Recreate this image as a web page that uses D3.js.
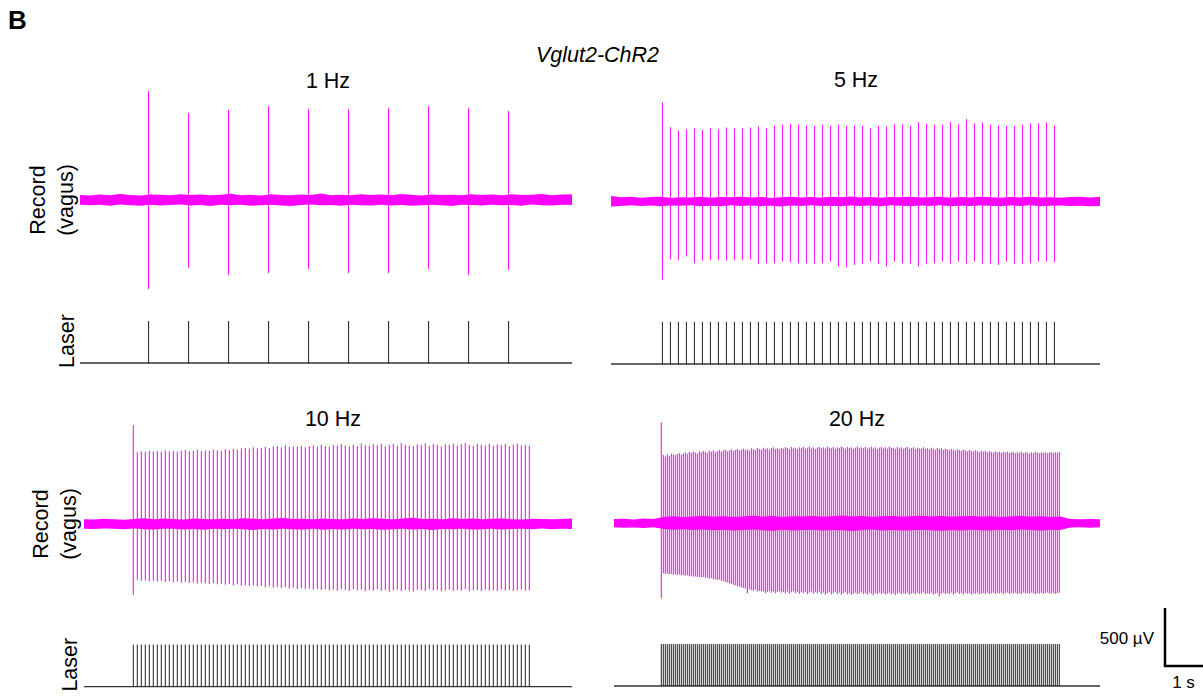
<!DOCTYPE html>
<html>
<head>
<meta charset="utf-8">
<script src="https://cdn.jsdelivr.net/npm/d3@7"></script>
<style>
  body { margin: 0; background: #fff; }
  text { font-family: "Liberation Sans", Arial, Helvetica, sans-serif; fill: #000; }
</style>
</head>
<body>
<script>
// stimulation protocol per panel
var titles = ["1 Hz", "5 Hz", "10 Hz", "20 Hz"],
    freqs = [1, 5, 10, 20],
    onsets = [1.715, 1.285, 1.2325, 1.1825],   // s, first laser pulse
    durations = [12.3, 12.225, 12.2, 12.15];   // s, trace length

// spike amplitudes (uV, positive peak / negative peak)
var rec1Up = [940, 750, 776, 810, 784, 784, 793, 810, 793, 767],
    rec1Down = [767, 586, 647, 629, 595, 629, 629, 595, 647, 603];

var rec5Up = [856, 640, 612, 623, 632, 618, 632, 623, 638, 632,
              632, 638, 647, 632, 655, 661, 670, 661, 655, 652,
              661, 652, 661, 652, 655, 652, 632, 652, 647, 666,
              666, 652, 684, 670, 661, 661, 690, 666, 710, 675,
              681, 661, 655, 652, 652, 661, 675, 675, 681, 655],
    rec5Down = [675, 497, 503, 474, 532, 511, 503, 503, 511, 503,
                503, 497, 540, 532, 532, 517, 526, 532, 532, 537,
                532, 517, 560, 566, 546, 537, 517, 537, 560, 517,
                532, 537, 560, 537, 532, 517, 537, 517, 537, 517,
                537, 537, 546, 517, 537, 537, 532, 517, 517, 526];

var rec10Up = [853, 618, 626, 621, 632, 624, 629, 621, 635, 626,
               629, 623, 632, 638, 627, 632, 641, 629, 635, 632,
               641, 635, 629, 644, 638, 647, 641, 652, 655, 649,
               661, 652, 658, 664, 655, 667, 672, 661, 678, 664,
               670, 667, 675, 661, 672, 678, 667, 684, 672, 667,
               681, 675, 690, 678, 670, 684, 672, 695, 681, 675,
               687, 678, 692, 670, 684, 690, 675, 698, 684, 678,
               672, 687, 681, 695, 675, 690, 684, 670, 687, 681,
               692, 675, 687, 698, 681, 672, 690, 684, 678, 692,
               675, 687, 681, 690, 672, 684, 692, 678, 681, 672],
    rec10Down = [612, 483, 489, 486, 494, 491, 497, 489, 500, 494,
                 503, 497, 506, 500, 509, 503, 514, 506, 511, 517,
                 509, 520, 514, 523, 517, 529, 520, 532, 526, 537,
                 529, 540, 534, 546, 537, 549, 543, 552, 546, 557,
                 549, 560, 554, 563, 557, 566, 560, 569, 563, 572,
                 566, 575, 560, 569, 578, 563, 572, 566, 580, 569,
                 575, 563, 578, 569, 583, 572, 566, 578, 569, 575,
                 583, 566, 572, 578, 563, 575, 569, 580, 572, 566,
                 578, 569, 575, 563, 580, 572, 569, 578, 566, 575,
                 572, 580, 566, 575, 569, 578, 572, 566, 575, 569];

var rec20Up = [871,
               589, 575, 595, 583, 601, 592, 586, 598, 604, 592,
               601, 612, 598, 615, 606, 618, 609, 601, 621, 612,
               624, 615, 606, 627, 618, 629, 612, 621, 632, 618,
               627, 635, 621, 629, 638, 624, 632, 641, 629, 635,
               644, 632, 638, 627, 647, 638, 632, 649, 641, 635,
               652, 641, 647, 635, 649, 655, 641, 647, 638, 652,
               644, 655, 649, 638, 658, 647, 652, 641, 655, 649,
               658, 644, 652, 661, 647, 655, 641, 652, 658, 647,
               655, 644, 661, 652, 647, 658, 641, 655, 649, 661,
               652, 644, 658, 649, 655, 641, 652, 661, 647, 655,
               649, 658, 644, 652, 661, 647, 655, 641, 652, 658,
               647, 655, 644, 661, 649, 652, 641, 658, 647, 655,
               644, 652, 658, 641, 649, 655, 638, 652, 647, 644,
               655, 641, 649, 638, 652, 644, 635, 649, 641, 647,
               632, 644, 638, 629, 641, 635, 627, 638, 632, 624,
               635, 629, 621, 632, 624, 618, 629, 621, 612, 627,
               618, 624, 612, 621, 615, 609, 621, 612, 618, 606,
               615, 609, 618, 606, 612, 615, 604, 612, 609, 618,
               606, 612, 609, 601, 612, 606, 615, 609, 604, 612,
               606, 612, 604, 609, 615, 606, 612, 609, 615],
    rec20Down = [646,
                 431, 437, 434, 440, 437, 443, 440, 446, 443, 449,
                 446, 452, 449, 457, 452, 460, 457, 463, 460, 466,
                 463, 471, 468, 477, 474, 483, 480, 489, 486, 494,
                 500, 506, 511, 517, 523, 529, 534, 540, 546, 552,
                 557, 563, 603, 569, 575, 580, 572, 589, 583, 586,
                 586, 601, 592, 583, 598, 589, 603, 592, 586, 598,
                 592, 601, 589, 606, 595, 586, 601, 592, 609, 595,
                 603, 592, 612, 598, 589, 606, 595, 603, 589, 609,
                 598, 615, 603, 595, 612, 601, 592, 609, 598, 615,
                 603, 595, 612, 601, 618, 606, 598, 612, 603, 595,
                 609, 601, 615, 598, 606, 621, 603, 612, 598, 609,
                 601, 615, 606, 598, 612, 603, 618, 606, 598, 612,
                 603, 609, 598, 615, 606, 601, 612, 598, 609, 603,
                 595, 612, 603, 609, 598, 615, 606, 601, 629, 606,
                 598, 612, 603, 609, 598, 615, 603, 595, 609, 601,
                 612, 598, 606, 601, 615, 603, 609, 598, 612, 606,
                 601, 609, 598, 612, 603, 598, 609, 601, 606, 598,
                 612, 603, 598, 609, 601, 606, 598, 612, 603, 609,
                 598, 606, 601, 609, 598, 603, 612, 601, 606, 598,
                 609, 601, 598, 606, 603, 598, 609, 601, 598];

// baseline noise band, half widths in uV, sampled evenly along each trace
var noise1Up = [44, 38, 47, 41, 52, 43, 39, 48, 45, 41, 50, 43, 47, 40, 46, 53, 42, 45, 39, 49,
                44, 41, 48, 43, 55, 42, 46, 40, 50, 44, 47, 41, 52, 45, 39, 48, 43, 46, 41, 50,
                44, 47, 40, 49, 43, 46, 52, 42, 47, 50],
    noise1Down = [40, 46, 42, 49, 38, 45, 50, 41, 47, 43, 39, 48, 44, 52, 41, 46, 40, 49, 45, 42,
                  47, 51, 43, 39, 46, 44, 50, 42, 45, 48, 41, 47, 43, 49, 45, 40, 46, 52, 42, 44,
                  48, 41, 46, 43, 50, 39, 45, 47, 42, 44];
var noise5Up = [48, 36, 40, 33, 38, 42, 31, 37, 35, 40, 33, 38, 36, 42, 34, 39, 31, 37, 41, 35,
                38, 33, 40, 36, 43, 34, 38, 32, 39, 36, 41, 34, 37, 40, 33, 38, 35, 42, 36, 33,
                39, 35, 41, 34, 37, 32, 38, 40, 35, 42],
    noise5Down = [44, 38, 33, 39, 35, 41, 34, 37, 32, 40, 36, 42, 33, 38, 35, 40, 37, 43, 34, 38,
                  32, 39, 36, 41, 34, 38, 35, 42, 33, 37, 40, 35, 38, 32, 41, 36, 39, 34, 37, 42,
                  35, 38, 33, 40, 36, 34, 39, 37, 41, 38];
var noise10Up = [42, 38, 45, 40, 36, 44, 50, 41, 47, 43, 39, 48, 44, 41, 46, 42, 49, 45, 40, 47,
                 52, 43, 46, 41, 48, 44, 40, 47, 43, 50, 45, 41, 48, 53, 44, 46, 40, 49, 43, 47,
                 42, 45, 48, 41, 38, 46, 43, 40, 44, 48],
    noise10Down = [40, 44, 38, 42, 46, 39, 45, 48, 42, 40, 47, 43, 49, 41, 45, 40, 46, 51, 43, 47,
                   41, 45, 48, 42, 50, 44, 47, 41, 46, 43, 49, 45, 42, 47, 44, 51, 43, 46, 40, 48,
                   45, 42, 47, 43, 40, 45, 38, 46, 42, 44];
var noise20Up = [36, 40, 33, 42, 38, 55, 60, 52, 58, 63, 56, 61, 54, 59, 65, 57, 62, 55, 60, 58,
                 64, 56, 61, 67, 58, 62, 55, 60, 63, 57, 61, 66, 58, 62, 56, 60, 64, 57, 61, 55,
                 59, 63, 56, 60, 54, 58, 38, 34, 37, 35],
    noise20Down = [34, 38, 36, 40, 35, 50, 56, 52, 58, 54, 60, 55, 62, 57, 53, 59, 64, 56, 61, 58,
                   55, 62, 57, 60, 66, 58, 54, 61, 57, 63, 59, 55, 60, 64, 57, 61, 55, 59, 62, 56,
                   60, 54, 58, 61, 55, 57, 36, 33, 38, 35];

var spikesUp = [rec1Up, rec5Up, rec10Up, rec20Up],
    spikesDown = [rec1Down, rec5Down, rec10Down, rec20Down],
    noiseUp = [noise1Up, noise5Up, noise10Up, noise20Up],
    noiseDown = [noise1Down, noise5Down, noise10Down, noise20Down];

// layout
var width = 1203,
    height = 698,
    pxPerSec = 40,
    pxPer500uV = 58,
    laserHeight = 42,
    magenta = "#ff00ff",
    lefts = [80, 611, 84, 614],
    recYs = [200, 201.5, 524, 523.3],
    laserYs = [363, 364, 686.7, 686],
    titleX = [328, 856, 333, 857],
    titleY = [87.5, 87, 426, 426];

var svg = d3.select("body")
    .append("svg")
        .attr("width", width)
        .attr("height", height);

svg.append("text")
    .attr("x", 8)
    .attr("y", 29)
    .style("font-size", "26px")
    .style("font-weight", "bold")
    .text("B");

svg.append("text")
    .attr("x", 597.5)
    .attr("y", 62)
    .attr("text-anchor", "middle")
    .style("font-size", "21.5px")
    .style("font-style", "italic")
    .text("Vglut2-ChR2");

titles.forEach(function(title, p) {
    var x = d3.scaleLinear()
            .domain([0, durations[p]])
            .range([lefts[p], lefts[p] + durations[p] * pxPerSec]),
        y = d3.scaleLinear()
            .domain([-500, 500])
            .range([recYs[p] + pxPer500uV, recYs[p] - pxPer500uV]),
        yL = d3.scaleLinear()
            .domain([0, 1])
            .range([laserYs[p], laserYs[p] - laserHeight]);

    var pulses = spikesUp[p].map(function(v, i) {
        return { t: onsets[p] + i / freqs[p], up: v, down: spikesDown[p][i] };
    });

    var g = svg.append("g").attr("class", "panel");

    g.append("text")
        .attr("x", titleX[p])
        .attr("y", titleY[p])
        .attr("text-anchor", "middle")
        .style("font-size", "21.5px")
        .text(title);

    // baseline noise band
    var n = noiseUp[p].length;
    var band = noiseUp[p].map(function(v, i) {
        return { t: durations[p] * i / (n - 1), hi: v, lo: noiseDown[p][i] };
    });
    g.append("path")
        .datum(band)
        .attr("fill", magenta)
        .attr("d", d3.area()
            .x(function(d) { return x(d.t); })
            .y0(function(d) { return y(-d.lo); })
            .y1(function(d) { return y(d.hi); }));

    // evoked spikes
    g.append("g")
        .selectAll("line")
        .data(pulses)
        .enter()
        .append("line")
        .attr("x1", function(d) { return x(d.t); })
        .attr("x2", function(d) { return x(d.t); })
        .attr("y1", function(d) { return y(d.up); })
        .attr("y2", function(d) { return y(-d.down); })
        .attr("stroke", magenta)
        .attr("stroke-width", 1);

    // laser trace
    g.append("line")
        .attr("x1", x(0))
        .attr("x2", x(durations[p]))
        .attr("y1", yL(0))
        .attr("y2", yL(0))
        .attr("stroke", "#333")
        .attr("stroke-width", 1.3);

    g.append("g")
        .selectAll("line")
        .data(pulses)
        .enter()
        .append("line")
        .attr("x1", function(d) { return x(d.t); })
        .attr("x2", function(d) { return x(d.t); })
        .attr("y1", yL(0))
        .attr("y2", yL(1))
        .attr("stroke", "#222")
        .attr("stroke-width", 1);
});

// row labels
[0, 2].forEach(function(p) {
    var dx = p === 0 ? 0 : 3;
    svg.append("text")
        .attr("transform", "translate(" + (45 + dx) + "," + recYs[p] + ") rotate(-90)")
        .attr("text-anchor", "middle")
        .style("font-size", "21.5px")
        .text("Record");
    svg.append("text")
        .attr("transform", "translate(" + (73 + dx) + "," + recYs[p] + ") rotate(-90)")
        .attr("text-anchor", "middle")
        .style("font-size", "21.5px")
        .text("(vagus)");
    svg.append("text")
        .attr("transform", "translate(" + (74 + dx) + "," + (laserYs[p] - 22) + ") rotate(-90)")
        .attr("text-anchor", "middle")
        .style("font-size", "21.5px")
        .text("Laser");
});

// scale bar
var sx = d3.scaleLinear().domain([0, 1]).range([1165, 1165 + pxPerSec]),
    sy = d3.scaleLinear().domain([0, 500]).range([666, 666 - pxPer500uV]);

svg.append("path")
    .attr("d", "M" + sx(0) + "," + sy(500) + "V" + sy(0) + "H" + sx(1))
    .attr("fill", "none")
    .attr("stroke", "#000")
    .attr("stroke-width", 2.5);

svg.append("text")
    .attr("x", 1154)
    .attr("y", 644)
    .attr("text-anchor", "end")
    .style("font-size", "17px")
    .text("500 µV");

svg.append("text")
    .attr("x", 1183.5)
    .attr("y", 688)
    .attr("text-anchor", "middle")
    .style("font-size", "17px")
    .text("1 s");
</script>
</body>
</html>
